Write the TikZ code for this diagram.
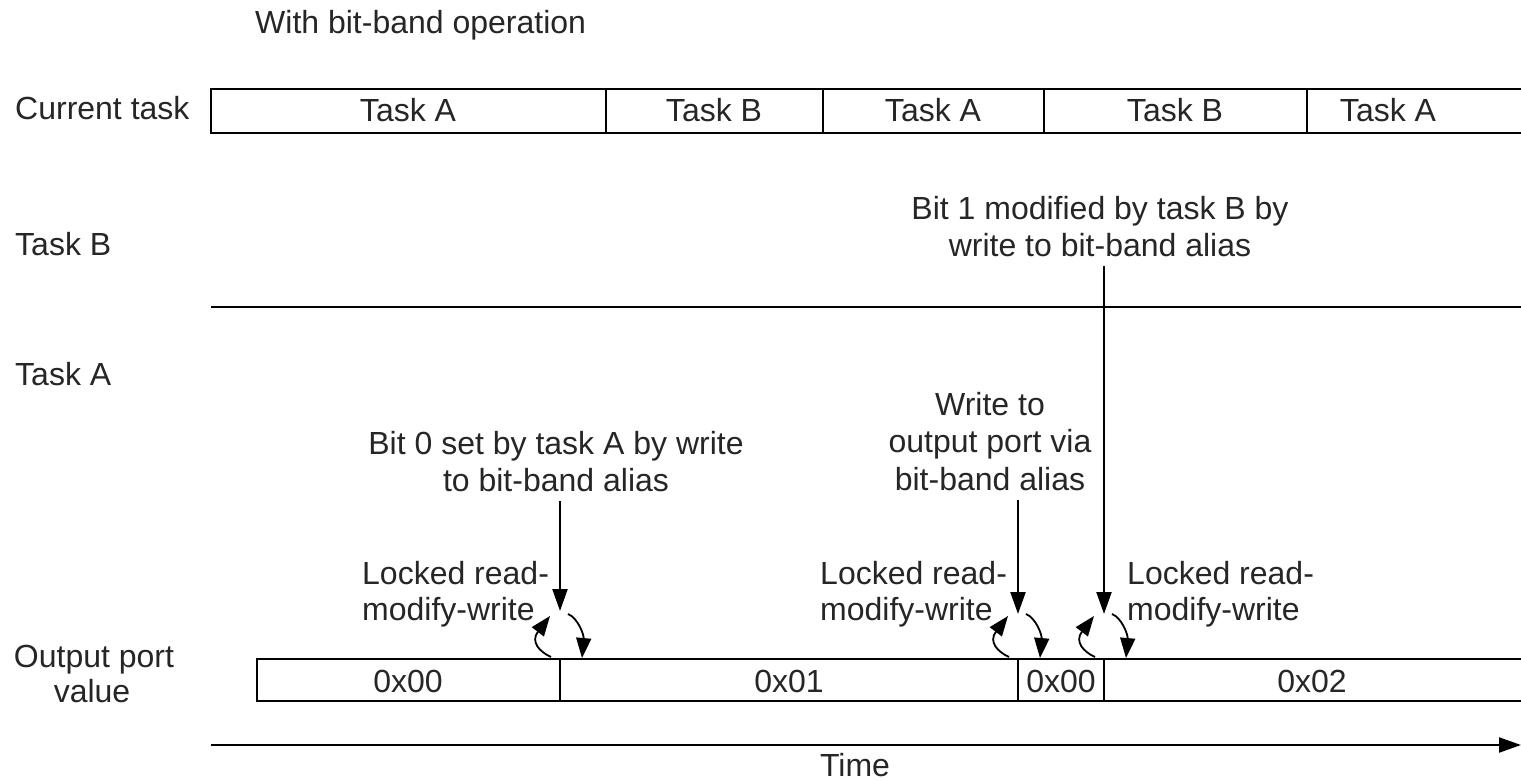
\documentclass[tikz,border=0pt]{standalone}
\usepackage{fontspec}
\setmainfont{Liberation Sans}
\usetikzlibrary{arrows.meta}
\begin{document}
\begin{tikzpicture}[x=1pt,y=-1pt,
  lbl/.style={inner sep=0pt, text=black!85, font=\fontsize{32}{37.5}\selectfont},
  ln/.style={line width=2.2pt},
  bigarrow/.style={line width=2.2pt,-{Triangle[length=22pt,width=15pt]}},
  curv/.style={line width=1.8pt,-{Triangle[length=20pt,width=15pt]}}]
\useasboundingbox (0,0) rectangle (1521,781);

% title and row labels
\node[lbl,anchor=base west] (title) at (255,34) {With bit-band operation};
\node[lbl,anchor=base west] (lcur) at (15,120) {Current task};
\node[lbl,anchor=base west] (ltb) at (15,255) {Task B};
\node[lbl,anchor=base west] (lta) at (15,385) {Task A};
\node[lbl,anchor=base] (lout1) at (94,667) {Output port};
\node[lbl,anchor=base] (lout2) at (92,702) {value};

% current task strip
\draw[ln] (1521,89) -- (211,89) -- (211,133) -- (1521,133);
\foreach \x in {606,823,1044,1307} \draw[ln] (\x,89) -- (\x,133);
\node[lbl,anchor=base] (ct1) at (408,122) {Task A};
\node[lbl,anchor=base] (ct2) at (714,122) {Task B};
\node[lbl,anchor=base] (ct3) at (933,122) {Task A};
\node[lbl,anchor=base] (ct4) at (1175,122) {Task B};
\node[lbl,anchor=base] (ct5) at (1388,122) {Task A};

% task B divider line
\draw[ln] (211,307) -- (1521,307);

% output port strip
\coordinate (d1) at (560,659);
\coordinate (d2) at (1018,659);
\coordinate (d3) at (1104,659);
\draw[ln] (1521,659) -- (257,659) -- (257,701) -- (1521,701);
\foreach \x in {560,1018,1104} \draw[ln] (\x,659) -- (\x,701);
\node[lbl,anchor=base] (v1) at (408,692) {0x00};
\node[lbl,anchor=base] (v2) at (789,692) {0x01};
\node[lbl,anchor=base] (v3) at (1061,692) {0x00};
\node[lbl,anchor=base] (v4) at (1312,692) {0x02};

% annotations
\node[lbl,anchor=north,align=center] (bit1) at (1100,196) {Bit 1 modified by task B by\\write to bit-band alias};
\node[lbl,anchor=north,align=center] (wr) at (990,392) {Write to\\output port via\\bit-band alias};
\node[lbl,anchor=north,align=center] (bit0) at (556,431) {Bit 0 set by task A by write\\to bit-band alias};
\node[lbl,anchor=north west,align=left,font=\fontsize{32}{36}\selectfont] (lk1) at (362,561) {Locked read-\\modify-write};
\node[lbl,anchor=north west,align=left,font=\fontsize{32}{36}\selectfont] (lk2) at (820,561) {Locked read-\\modify-write};
\node[lbl,anchor=north west,align=left,font=\fontsize{32}{36}\selectfont] (lk3) at (1127,561) {Locked read-\\modify-write};

% vertical arrows
\coordinate (t1) at (560,611);
\coordinate (t2) at (1018,614);
\coordinate (t3) at (1104,614);
\draw[bigarrow] ([yshift=-9pt]bit0.south -| d1) -- (t1);
\draw[bigarrow] ([yshift=-9pt]wr.south -| d2) -- (t2);
\draw[bigarrow] ([yshift=-9pt]bit1.south -| d3) -- (t3);

% locked read-modify-write curved arrows
\foreach \x in {560,1018,1104} {
  \draw[curv] (\x-9,657) .. controls (\x-20,652) and (\x-30,642) .. (\x-10,616);
  \draw[curv] (\x+8,614) .. controls (\x+18,618) and (\x+24,635) .. (\x+22,658);
}

% time axis
\coordinate (ts) at (211,745);
\coordinate (te) at (1521,745);
\draw[bigarrow] (ts) -- (te);
\node[lbl,anchor=base] (time) at (855,776) {Time};
\end{tikzpicture}
\end{document}
